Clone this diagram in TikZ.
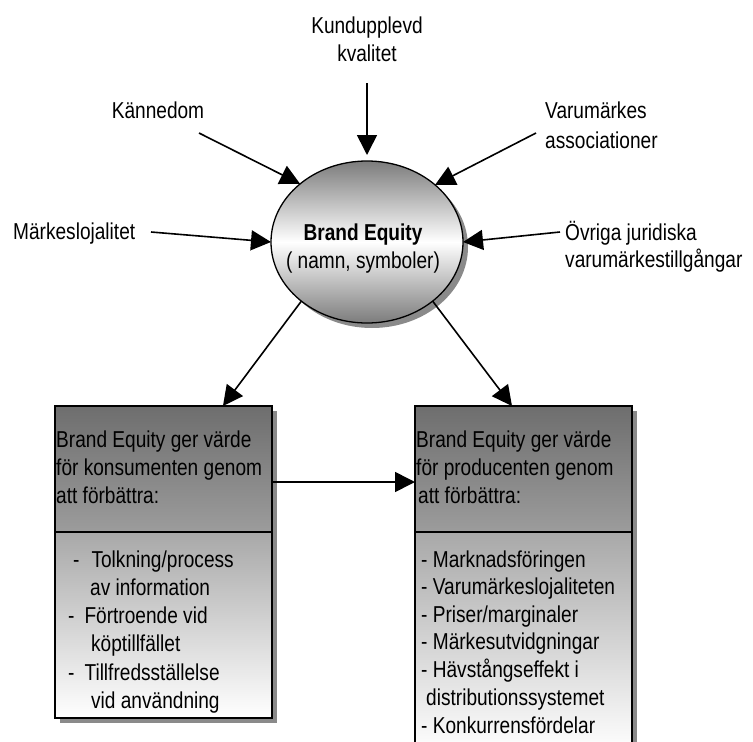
\documentclass[tikz,border=0pt]{standalone}
\usepackage{fontspec}
\setmainfont{Liberation Sans}[FakeStretch=0.83]
\usetikzlibrary{arrows.meta,shapes.geometric,shadows,calc}
\definecolor{hdtop}{HTML}{6E6E6E}
\definecolor{hdbot}{HTML}{9C9C9C}
\definecolor{bdtop}{HTML}{A8A8A8}
\definecolor{shadowgray}{HTML}{8A8A8A}
\definecolor{elgray}{HTML}{7C7C7C}
\begin{document}
\begin{tikzpicture}[x=1pt,y=-1pt,
  lbl/.style={inner sep=0pt, font=\fontsize{23}{28}\selectfont},
  arr/.style={line width=1.6pt, -{Triangle[length=20pt,width=20pt]}},
  boxshadow/.style={drop shadow={shadow xshift=5pt, shadow yshift=-5pt, fill=shadowgray, opacity=1}},
  headbox/.style={draw, line width=1.2pt, rectangle, minimum width=217pt, minimum height=126pt, inner sep=0pt, outer sep=0pt, anchor=north west, top color=hdtop, bottom color=hdbot, boxshadow},
  bodybox/.style={draw, line width=1.2pt, rectangle, minimum width=217pt, inner sep=0pt, outer sep=0pt, anchor=north west, top color=bdtop, bottom color=white, boxshadow}
]
\useasboundingbox (0,0) rectangle (753,742);
\clip (0,0) rectangle (753,742);

% central ellipse
\node[ellipse, draw, line width=1.3pt, minimum width=192pt, minimum height=162pt, inner sep=0pt, outer sep=0pt,
  top color=elgray, bottom color=elgray, middle color=white,
  drop shadow={shadow xshift=5pt, shadow yshift=-5pt, fill=shadowgray, opacity=1}] (be) at (367,242) {};
\node[lbl, anchor=base] (bet1) at (363,240) {\textbf{Brand Equity}};
\node[lbl, anchor=base] (bet2) at (363,268) {( namn, symboler)};

% surrounding labels
\node[lbl, anchor=base] (kq1) at (367,33) {Kundupplevd};
\node[lbl, anchor=base] (kq2) at (367,61) {kvalitet};
\node[lbl, anchor=base] (kan) at (158,118) {Kännedom};
\node[lbl, anchor=base west] (mlo) at (13,239) {Märkeslojalitet};
\node[lbl, anchor=base west] (va1) at (545,118) {Varumärkes};
\node[lbl, anchor=base west] (va2) at (545,148) {associationer};
\node[lbl, anchor=base west] (ov1) at (565,240) {Övriga juridiska};
\node[lbl, anchor=base west] (ov2) at (565,267) {varumärkestillgångar};

% arrow start coordinates
\coordinate (skq) at (367,83);
\coordinate (skan) at (199,133);
\coordinate (smlo) at (151,232);
\coordinate (sva) at (536,133);
\coordinate (sov) at (560,232);

\draw[arr, shorten >=6pt] (skq) -- (be.90);
\draw[arr] (skan) -- (be.139);
\draw[arr] (smlo) -- (be.180);
\draw[arr] (sva) -- (be.40);
\draw[arr] (sov) -- (be.0);

% boxes
\node[headbox] (hl) at (55,406) {};
\node[bodybox, minimum height=186pt] (bl) at (55,532) {};
\node[headbox] (hr) at (415,406) {};
\node[bodybox, minimum height=220pt] (br) at (415,532) {};

% left box text
\node[lbl, anchor=base west] (hl1) at (56,447) {Brand Equity ger värde};
\node[lbl, anchor=base west] (hl2) at (56,475) {för konsumenten genom};
\node[lbl, anchor=base west] (hl3) at (56,503) {att förbättra:};
\node[lbl, anchor=base west] (bl1) at (73,567) {-\hspace{12pt}Tolkning/process};
\node[lbl, anchor=base west] (bl2) at (90,595) {av information};
\node[lbl, anchor=base west] (bl3) at (68,623) {-\hspace{10pt}Förtroende vid};
\node[lbl, anchor=base west] (bl4) at (91,651) {köptillfället};
\node[lbl, anchor=base west] (bl5) at (68,680) {-\hspace{10pt}Tillfredsställelse};
\node[lbl, anchor=base west] (bl6) at (91,708) {vid användning};

% right box text
\node[lbl, anchor=base west] (hr1) at (416,447) {Brand Equity ger värde};
\node[lbl, anchor=base west] (hr2) at (416,475) {för producenten genom};
\node[lbl, anchor=base west] (hr3) at (418,503) {att förbättra:};
\node[lbl, anchor=base west] (br1) at (421,567) {- Marknadsföringen};
\node[lbl, anchor=base west] (br2) at (421,594) {- Varumärkeslojaliteten};
\node[lbl, anchor=base west] (br3) at (421,622) {- Priser/marginaler};
\node[lbl, anchor=base west] (br4) at (421,649) {- Märkesutvidgningar};
\node[lbl, anchor=base west] (br5) at (421,677) {- Hävstångseffekt i};
\node[lbl, anchor=base west] (br6) at (426,705) {distributionssystemet};
\node[lbl, anchor=base west] (br7) at (421,733) {- Konkurrensfördelar};

% connectors ellipse -> boxes and between boxes
\draw[arr] (be.222) -- ($(hl.north west)!0.774!(hl.north east)$);
\draw[arr] (be.318) -- ($(hr.north west)!0.447!(hr.north east)$);
\draw[arr] ($(hl.east)+(0,13)$) -- ($(hr.west)+(0,13)$);
\end{tikzpicture}
\end{document}
